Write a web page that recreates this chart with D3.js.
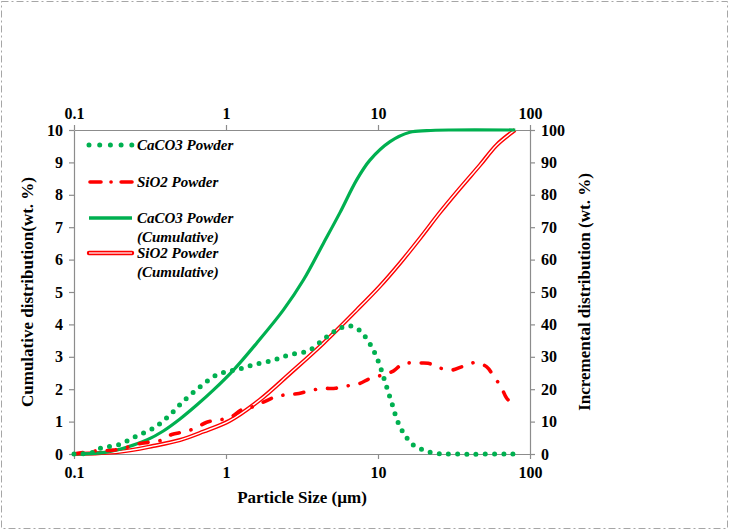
<!DOCTYPE html>
<html><head><meta charset="utf-8">
<script src="https://cdn.jsdelivr.net/npm/d3@7/dist/d3.min.js"></script>
<style>body{margin:0;background:#fff} svg{display:block}</style>
</head><body><svg id="c" width="730" height="532"></svg>
<script>
// ---- data ----
const sizeTicks = [0.1, 1, 10, 100];
const leftTicks = [0,1,2,3,4,5,6,7,8,9,10];
const rightTicks = [0,10,20,30,40,50,60,70,80,90,100];
const seriesNames = ["CaCO3 Powder", "SiO2 Powder", "CaCO3 Powder\n(Cumulative)", "SiO2 Powder\n(Cumulative)"];

// incremental (left scale 0-10)
const caco3IncX = [0.1,0.13,0.15,0.2,0.26,0.34,0.43,0.53,0.67,0.85,1.0,1.2,1.5,2.0,2.6,3.5,4.4,5.0,5.6,6.5,7.5,8.3,9.0,9.6,10.2,11.0,11.7,12.5,13.3,14.3,15.3,17,20,24,30,80];
const caco3IncY = [0,0.04,0.18,0.3,0.56,0.82,1.22,1.65,2.06,2.42,2.54,2.61,2.75,2.88,3.06,3.19,3.55,3.74,3.88,3.96,3.83,3.6,3.34,3.08,2.78,2.3,1.9,1.48,1.07,0.75,0.53,0.28,0.12,0.02,0,0];
const sio2IncX = [0.1,0.141,0.181,0.217,0.259,0.308,0.368,0.439,0.524,0.625,0.747,0.889,1.06,1.27,1.48,1.76,2.16,2.51,3.02,3.66,4.37,5.27,6.22,7.42,8.95,10.8,12.6,14.7,17.5,21.4,25.3,30.5,35.5,43.5,51.9,57.4,64.4,70.3,79.7];
const sio2IncY = [0,0.1,0.12,0.19,0.3,0.36,0.41,0.6,0.68,0.79,0.98,1.05,1.12,1.37,1.45,1.6,1.78,1.83,1.87,1.97,2.02,2.03,2.1,2.16,2.34,2.44,2.56,2.8,2.8,2.8,2.66,2.59,2.69,2.82,2.69,2.41,2.08,1.72,1.48];
// cumulative (right scale 0-100)
const caco3CumX = [0.1,0.156,0.222,0.301,0.387,0.498,0.642,0.825,1.12,1.59,2.38,3.23,4.37,5.62,7.24,8.85,12.0,16.2,20.9,30,80];
const caco3CumY = [0,0.4,2.1,4.3,7.1,10.8,15.1,19.7,25.9,34.2,44.4,53.7,65.0,74.5,84.6,90.7,96.4,99.3,99.8,100,100];
const sio2CumX = [0.1,0.2,0.333,0.498,0.709,1.06,1.67,2.64,4.37,7.24,10.3,14.0,18.9,25.6,34.6,46.9,60.4,79.7];
const sio2CumY = [0,0.7,2.5,4.3,6.9,10.3,16.7,24.9,34.2,44.4,51.8,59.0,66.6,74.6,82,89.2,95.4,100];

// ---- chart ----
const svg = d3.select("#c");
const font = "'Liberation Serif','Times New Roman',serif";
const green = "#00B050", red = "#FF0000", axisCol = "#8c8c8c";
const L = 74, R = 530, T = 130, B = 454;

// outer dashed border
svg.append("rect").attr("x",1.5).attr("y",1.5).attr("width",726).attr("height",527)
  .attr("fill","none").attr("stroke","#a6a6a6").attr("stroke-width",1).attr("stroke-dasharray","7,3,2,3");

const x = d3.scaleLog().domain([0.1,100]).range([L,R]);
const yL = d3.scaleLinear().domain([0,10]).range([B,T]);
const yR = d3.scaleLinear().domain([0,100]).range([B,T]);

function styleAxis(g){
  g.selectAll("path.domain").attr("stroke",axisCol).attr("stroke-width",1.2);
  g.selectAll(".tick line").attr("stroke",axisCol).attr("stroke-width",1.2);
  g.selectAll("text").attr("font-family",font).attr("font-weight","bold").attr("font-size",16).attr("fill","#000");
}
const fmt = d => String(d);
svg.append("g").attr("transform",`translate(0,${B})`)
  .call(d3.axisBottom(x).tickValues(sizeTicks).tickFormat(fmt).tickSize(5).tickSizeOuter(0).tickPadding(8))
  .call(styleAxis);
svg.append("g").attr("transform",`translate(0,${T})`)
  .call(d3.axisTop(x).tickValues(sizeTicks).tickFormat(fmt).tickSize(5).tickSizeOuter(0).tickPadding(6))
  .call(styleAxis);
svg.append("g").attr("transform",`translate(${L},0)`)
  .call(d3.axisLeft(yL).tickValues(leftTicks).tickSize(5).tickSizeOuter(0).tickPadding(6))
  .call(styleAxis);
svg.append("g").attr("transform",`translate(${R},0)`)
  .call(d3.axisRight(yR).tickValues(rightTicks).tickSize(5).tickSizeOuter(0).tickPadding(6))
  .call(styleAxis);

// axis titles
svg.append("text").attr("x",(L+R)/2).attr("y",503).attr("text-anchor","middle")
  .attr("font-family",font).attr("font-weight","bold").attr("font-size",17).text("Particle Size (µm)");
svg.append("text").attr("transform",`translate(33,${(T+B)/2}) rotate(-90)`).attr("text-anchor","middle")
  .attr("font-family",font).attr("font-weight","bold").attr("font-size",17).text("Cumulative distribution(wt. %)");
svg.append("text").attr("transform",`translate(590,${(T+B)/2}) rotate(-90)`).attr("text-anchor","middle")
  .attr("font-family",font).attr("font-weight","bold").attr("font-size",17).text("Incremental distribution (wt. %)");

const zip = (a,b) => a.map((v,i)=>[v,b[i]]);
const curve = d3.curveCatmullRom.alpha(0.5);
const lineL = d3.line().x(d=>x(d[0])).y(d=>yL(d[1])).curve(curve);
const lineR = d3.line().x(d=>x(d[0])).y(d=>yR(d[1])).curve(curve);

// SiO2 cumulative (double line)
svg.append("path").attr("d",lineR(zip(sio2CumX,sio2CumY))).attr("fill","none").attr("stroke",red).attr("stroke-width",4.2);
svg.append("path").attr("d",lineR(zip(sio2CumX,sio2CumY))).attr("fill","none").attr("stroke","#fff").attr("stroke-width",1.4);
// CaCO3 cumulative
svg.append("path").attr("d",lineR(zip(caco3CumX,caco3CumY))).attr("fill","none").attr("stroke",green).attr("stroke-width",3.2);
// SiO2 incremental dash-dot
svg.append("path").attr("d",lineL(zip(sio2IncX,sio2IncY))).attr("fill","none").attr("stroke",red)
  .attr("stroke-width",3.6).attr("stroke-linecap","round").attr("stroke-dasharray","9,12,0.1,12");
// CaCO3 incremental dotted
svg.append("path").attr("d",lineL(zip(caco3IncX,caco3IncY))).attr("fill","none").attr("stroke",green)
  .attr("stroke-width",5).attr("stroke-linecap","round").attr("stroke-dasharray","0,9.2");

// legend
const lg = svg.append("g");
const rowsY = [145,182,218,253];
const sx0 = 89, sx1 = 132;
lg.append("line").attr("x1",sx0).attr("x2",sx1+1).attr("y1",rowsY[0]).attr("y2",rowsY[0]).attr("stroke",green)
  .attr("stroke-width",5).attr("stroke-linecap","round").attr("stroke-dasharray","0,10.7");
lg.append("line").attr("x1",sx0+1).attr("x2",sx1).attr("y1",rowsY[1]).attr("y2",rowsY[1]).attr("stroke",red)
  .attr("stroke-width",3.6).attr("stroke-linecap","round").attr("stroke-dasharray","11,10,0.1,10");
lg.append("line").attr("x1",sx0).attr("x2",sx1).attr("y1",rowsY[2]).attr("y2",rowsY[2]).attr("stroke",green).attr("stroke-width",3.4);
lg.append("line").attr("x1",sx0).attr("x2",sx1).attr("y1",rowsY[3]).attr("y2",rowsY[3]).attr("stroke",red).attr("stroke-width",4.4).attr("stroke-linecap","round");
lg.append("line").attr("x1",sx0).attr("x2",sx1).attr("y1",rowsY[3]).attr("y2",rowsY[3]).attr("stroke","#ff9a9a").attr("stroke-width",2);
seriesNames.forEach((name,i)=>{
  const t = lg.append("text").attr("x",137).attr("y",rowsY[i]+5).attr("font-family",font)
    .attr("font-weight","bold").attr("font-style","italic").attr("font-size",15);
  name.split("\n").forEach((s,j)=>{ t.append("tspan").attr("x",137).attr("dy", j?18.5:0).text(s); });
});
</script></body></html>
